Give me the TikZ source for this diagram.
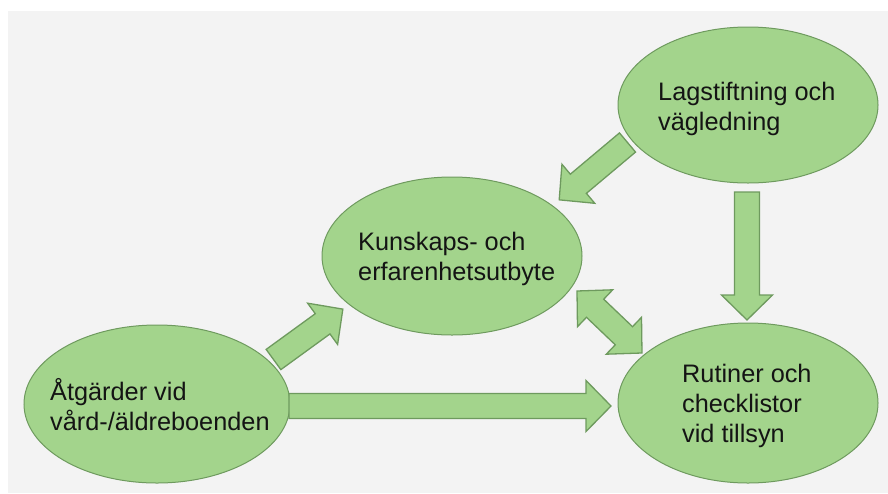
\documentclass[tikz,border=0pt]{standalone}
\usepackage{fontspec}
\setmainfont{Liberation Sans}
\usetikzlibrary{shapes.geometric,calc}
\definecolor{bg}{HTML}{F3F3F3}
\definecolor{gfill}{HTML}{A3D48C}
\definecolor{gline}{HTML}{6E9A5E}
\definecolor{txt}{HTML}{141414}
\newcommand\blockarrow[2]{%
  \draw[barrow] let \p1=(#1), \p2=(#2), \n1={atan2(\y2-\y1,\x2-\x1)}, \n2={veclen(\x2-\x1,\y2-\y1)} in
    [shift={(\p1)}, rotate=\n1] (0,-12.5) -- ({\n2-25},-12.5) -- ({\n2-25},-25.5) -- (\n2,0)
    -- ({\n2-25},25.5) -- ({\n2-25},12.5) -- (0,12.5) -- cycle;}
\newcommand\doubleblockarrow[2]{%
  \draw[barrow] let \p1=(#1), \p2=(#2), \n1={atan2(\y2-\y1,\x2-\x1)}, \n2={veclen(\x2-\x1,\y2-\y1)} in
    [shift={(\p1)}, rotate=\n1] (0,0) -- (25,-25.5) -- (25,-12.5) -- ({\n2-25},-12.5) -- ({\n2-25},-25.5) -- (\n2,0)
    -- ({\n2-25},25.5) -- ({\n2-25},12.5) -- (25,12.5) -- (25,25.5) -- cycle;}
\begin{document}
\begin{tikzpicture}[x=1pt,y=-1pt,
  bubble/.style={ellipse, draw=gline, fill=gfill, line width=1pt, inner sep=0pt},
  lbl/.style={anchor=base west, align=left, inner sep=0pt, text=txt, font=\fontsize{25.3}{30}\selectfont},
  barrow/.style={draw=gline, fill=gfill, line width=1.3pt, line join=miter}]
\fill[white] (0,0) rectangle (888,493);
\fill[bg] (8,11) rectangle (888,493);
\useasboundingbox (0,0) rectangle (888,493);

\node[bubble, minimum width=260pt, minimum height=156pt] (lag) at (748,105) {};
\node[bubble, minimum width=260pt, minimum height=158pt] (kun) at (452,256) {};
\node[bubble, minimum width=266pt, minimum height=158pt] (atg) at (157,404) {};
\node[bubble, minimum width=260pt, minimum height=160pt] (rut) at (748,403) {};

% base anchor of a multi-line node is the baseline of its last line
\node[lbl] (lagt) at (658,130) {Lagstiftning och\\vägledning};
\node[lbl] (kunt) at (358,280) {Kunskaps- och\\erfarenhetsutbyte};
\node[lbl] (atgt) at (50,430) {Åtgärder vid\\vård-/äldreboenden};
\node[lbl] (rutt) at (682,442) {Rutiner och\\checklistor\\vid tillsyn};

\coordinate (lk1) at (627.5,142.5); \coordinate (lk2) at (559,200);
\coordinate (lr1) at (747,192);     \coordinate (lr2) at (747,320);
\coordinate (kr1) at (577,291);     \coordinate (kr2) at (642,353);
\coordinate (ak1) at (273.5,359.5); \coordinate (ak2) at (343,309);
\coordinate (ar1) at (289,406);     \coordinate (ar2) at (611,406);

\blockarrow{lk1}{lk2}
\blockarrow{lr1}{lr2}
\doubleblockarrow{kr1}{kr2}
\blockarrow{ak1}{ak2}
\blockarrow{ar1}{ar2}
\end{tikzpicture}
\end{document}
